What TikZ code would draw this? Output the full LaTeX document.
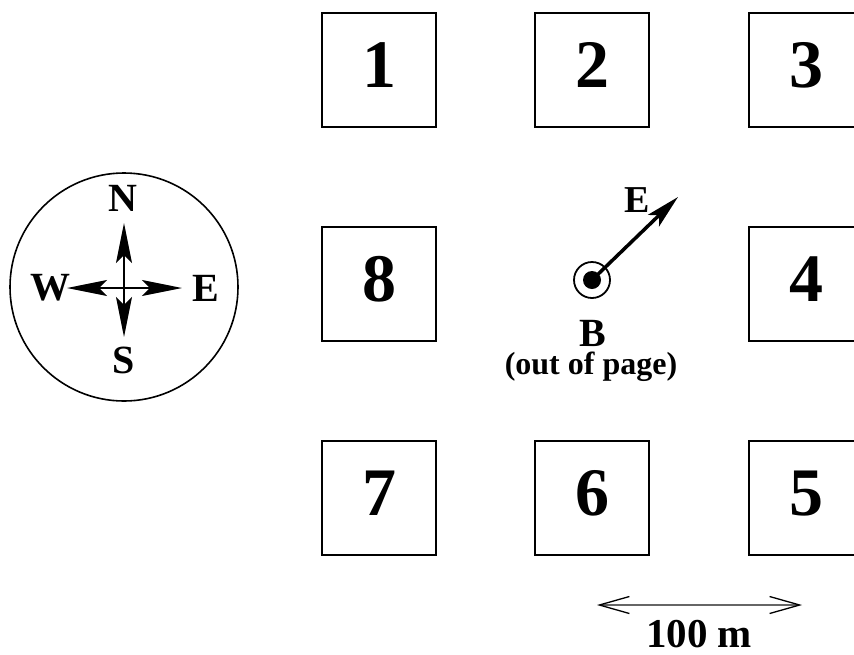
\documentclass[tikz,border=0pt]{standalone}
\usepackage{fontspec}
\setmainfont{Liberation Serif}
\usetikzlibrary{%
  arrows.meta,%
  positioning,%
  calc%
}

\begin{document}
\begin{tikzpicture}
[x=1pt, y=-1pt, draw=black, line width=2pt, font=\bfseries,
block/.style={rectangle, draw, line width=2pt, inner sep=0pt, minimum size=114pt, text depth=10pt, font=\fontsize{68}{68}\bfseries\selectfont},
compass/.style={circle, draw, line width=1.6pt, inner sep=0pt, minimum size=228pt},
dir/.style={inner sep=0pt, font=\fontsize{40}{40}\bfseries\selectfont},
kite/.style={-{Stealth[length=40pt, width=16pt, inset=8pt]}, line width=1.5pt},
field/.style={-{Stealth[length=34pt, width=16pt, inset=8pt]}, line width=3.5pt},
scalebar/.style={{Straight Barb[length=30pt, width=17pt, black]}-{Straight Barb[length=30pt, width=17pt, black]}, line width=1.3pt, draw=black!60}]

\useasboundingbox (0,0) rectangle (854,654);

% blocks
\node[block] (b1) at (379,70) {1};
\node[block] (b2) at (592,70) {2};
\node[block] (b3) at (806,70) {3};
\node[block] (b8) at (379,284) {8};
\node[block] (b4) at (806,284) {4};
\node[block] (b7) at (379,498) {7};
\node[block] (b6) at (592,498) {6};
\node[block] (b5) at (806,498) {5};

% compass
\node[compass] (comp) at (124,287) {};
\coordinate (c0) at (124,288);
\coordinate (cN) at (124,223);
\coordinate (cS) at (124,337);
\coordinate (cW) at (67,288);
\coordinate (cE) at (182,288);
\draw[kite] (c0) -- (cN);
\draw[kite] (c0) -- (cS);
\draw[kite] (c0) -- (cW);
\draw[kite] (c0) -- (cE);
\node[dir] (lN) at (123,198) {N};
\node[dir] (lS) at (124,360) {S};
\node[dir] (lW) at (50,288) {W};
\node[dir] (lE) at (206,288) {E};

% field out of page
\node[circle, draw, line width=1.8pt, inner sep=0pt, minimum size=36pt] (bring) at (592,280) {};
\node[circle, fill=black, inner sep=0pt, minimum size=18pt] (bdot) at (bring.center) {};
\coordinate (etip) at (678,197);
\draw[field] (bdot.center) -- (etip);
\node[dir, font=\fontsize{38}{38}\bfseries\selectfont] (lEfield) at (637,200) {E};
\node[dir] (lB) at (593,333) {B};
\node[inner sep=0pt, font=\fontsize{32}{32}\bfseries\selectfont] (outof) at (591,367) {(out of page)};

% scale
\coordinate (sL) at (597,605);
\coordinate (sR) at (802,605);
\draw[scalebar] (sL) -- (sR);
\node[dir, font=\fontsize{41}{41}\bfseries\selectfont] (len) at (699,634) {100 m};
\end{tikzpicture}
\end{document}
